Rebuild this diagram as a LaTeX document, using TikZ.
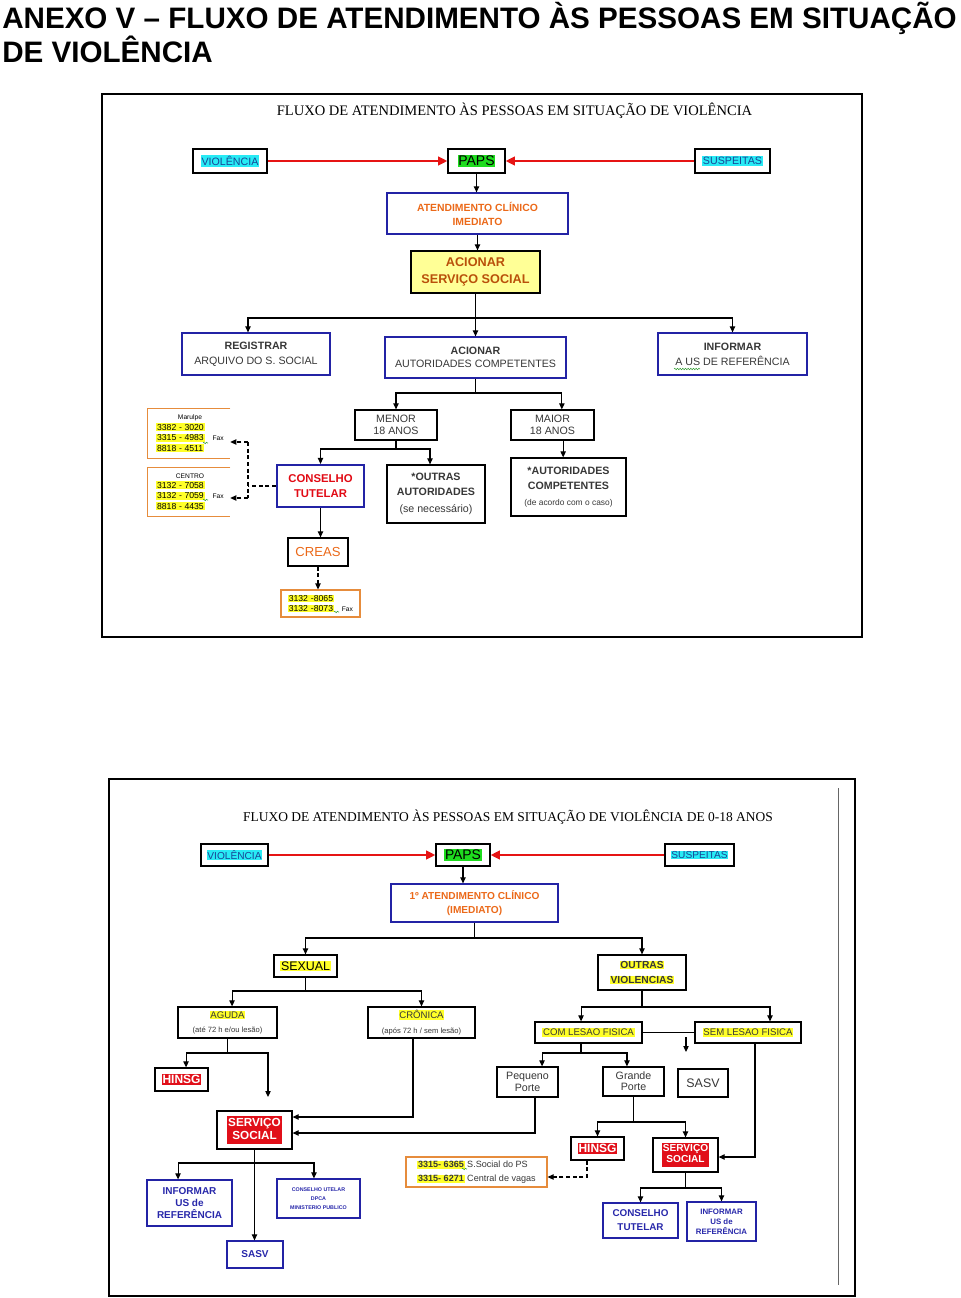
\documentclass[tikz,border=0pt]{standalone}
\usepackage{fontspec}
\setmainfont{Liberation Sans}
\newfontfamily\serifft{Liberation Serif}
\usetikzlibrary{arrows.meta,positioning,shadows,decorations.pathmorphing,calc}

\definecolor{hlcyan}{RGB}{40,235,245}
\definecolor{vtext}{RGB}{25,70,150}
\definecolor{hlgreen}{RGB}{30,220,30}
\definecolor{hlyel}{RGB}{255,255,40}
\definecolor{hlred}{RGB}{225,15,25}
\definecolor{arrred}{RGB}{230,20,20}
\definecolor{navy}{RGB}{35,35,165}
\definecolor{orangetxt}{RGB}{235,105,25}
\definecolor{browntxt}{RGB}{185,80,10}
\definecolor{paleyel}{RGB}{255,255,150}
\definecolor{redtxt}{RGB}{225,10,20}
\definecolor{bluetxt}{RGB}{40,40,170}
\definecolor{phorange}{RGB}{230,140,60}
\definecolor{squiggreen}{RGB}{60,160,60}
\definecolor{graytxt}{RGB}{55,55,55}

\newcommand{\fsz}[2]{\fontsize{#1}{#2}\selectfont}
\newcommand{\hl}[2]{{\setlength{\fboxsep}{0.6pt}\colorbox{#1}{#2}}}
\newcommand{\hlblock}[2]{{\setlength{\fboxsep}{0.6pt}\colorbox{hlred}{\color{white}\begin{tabular}{@{}c@{}}#1\\#2\end{tabular}}}}

\begin{document}
\begin{tikzpicture}[x=0.75pt,y=0.75pt,yscale=-1,xscale=1,
  cbox/.style 2 args={draw, line width=0.9pt, minimum width=#1*0.75pt, minimum height=#2*0.75pt, inner sep=0pt, align=center},
  blbox/.style={draw=navy, line width=0.9pt},
  shd/.style={drop shadow={shadow xshift=1.1pt, shadow yshift=-1.1pt, fill=black!35, opacity=1}},
  link/.style={line width=0.8pt, -{Triangle[length=4.5pt,width=4pt]}},
  ln/.style={line width=0.8pt},
  dlink/.style={line width=0.8pt, dash pattern=on 3pt off 2pt, -{Triangle[length=4.5pt,width=4pt]}},
  dln/.style={line width=0.8pt, dash pattern=on 3pt off 2pt},
  redlink/.style={draw=arrred, line width=1.8pt, -{Triangle[length=7pt,width=6.5pt]}},
  squig/.style={draw=squiggreen, line width=0.4pt, decorate, decoration={snake, amplitude=0.6pt, segment length=2pt}},
  phline/.style={draw=phorange, line width=0.8pt}
]
\useasboundingbox (0,0) rectangle (960,1298);

% Heading
\node[anchor=base west, inner sep=0pt, font=\bfseries\fsz{22.2}{26}] (head1) at (2,29) {ANEXO V – FLUXO DE ATENDIMENTO ÀS PESSOAS EM SITUAÇÃO};
\node[anchor=base west, inner sep=0pt, font=\bfseries\fsz{22.2}{26}] (head2) at (2,63) {DE VIOLÊNCIA};

%%%%%%%%%%%%%%%% first chart
\draw[line width=1.5pt] (102,94) rectangle (862,637);
\node[anchor=base, inner sep=0pt, font=\serifft\fsz{10.9}{12}] (tit1) at (514.5,116) {FLUXO DE ATENDIMENTO ÀS PESSOAS EM SITUAÇÃO DE VIOLÊNCIA};

% Boxes
\node[cbox={74}{24}, shd, fill=white, font=\fsz{8}{10}] (vio1) at (230,161) {\hl{hlcyan}{\color{vtext}VIOLÊNCIA}};
\node[cbox={57}{24}, shd, fill=white, font=\fsz{10.5}{12}] (paps1) at (476.5,161) {\hl{hlgreen}{PAPS}};
\node[cbox={75}{24}, shd, fill=white, font=\fsz{8}{10}] (sus1) at (732.5,161) {\hl{hlcyan}{\color{vtext}SUSPEITAS}};
\node[cbox={181}{41}, blbox, text=orangetxt, font=\bfseries\fsz{7.8}{10.5}] (aci1) at (477.5,213.5) {ATENDIMENTO CLÍNICO\\IMEDIATO};
\node[cbox={129}{42}, shd, fill=paleyel, text=browntxt, font=\bfseries\fsz{9.5}{12.7}] (ass1) at (475.5,272) {ACIONAR\\SERVIÇO SOCIAL};
\node[cbox={148}{42}, blbox, text=graytxt, font=\fsz{8}{11.2}] (reg1) at (256,354) {\textbf{REGISTRAR}\\ARQUIVO DO S. SOCIAL};
\node[cbox={181}{41}, blbox, text=graytxt, font=\fsz{8}{10}] (aut1) at (475.5,357.5) {\textbf{ACIONAR}\\AUTORIDADES COMPETENTES};
\node[cbox={149}{42}, blbox, text=graytxt, font=\fsz{8}{11.2}] (inf1) at (732.5,354) {\textbf{INFORMAR}\\A US DE REFERÊNCIA};
\node[cbox={82}{30}, shd, fill=white, text=graytxt, font=\fsz{8}{9}] (menor) at (396,425) {MENOR\\18 ANOS};
\node[cbox={83}{30}, shd, fill=white, text=graytxt, font=\fsz{8}{9}] (maior) at (552.5,425) {MAIOR\\18 ANOS};
\node[cbox={87}{42}, draw=navy, line width=1.6pt, text=redtxt, font=\bfseries\fsz{8.5}{11.2}] (ct1) at (320.5,486) {CONSELHO\\TUTELAR};
\node[cbox={98}{58}, shd, fill=white, text=graytxt, font=\fsz{8}{11.2}] (oaut) at (436,494) {\textbf{*OUTRAS}\\\textbf{AUTORIDADES}\\[2pt](se necessário)};
\node[cbox={115}{58}, shd, fill=white, text=graytxt, font=\fsz{8}{11.5}] (acomp) at (568.5,487) {\textbf{*AUTORIDADES}\\\textbf{COMPETENTES}\\{\fsz{6.3}{8}(de acordo com o caso)}};
\node[cbox={60}{28}, shd, fill=white, text=orangetxt, font=\fsz{9.8}{12}] (creas) at (318,552) {CREAS};

% Phone lists
\node[minimum width=82*0.75pt, minimum height=49*0.75pt, inner sep=0pt] (marulpe) at (189,433.5) {};
\draw[phline] (marulpe.north east) -- (marulpe.north west) -- (marulpe.south west) -- (marulpe.south east);
\node[inner sep=0pt, font=\fsz{5}{6}] (marT) at (190,418) {Marulpe};
\node[anchor=north west, inner sep=0pt, align=left, font=\fsz{6.5}{7.9}] (marL) at (156,423) {\hl{hlyel}{3382\,\,- 3020}\\\hl{hlyel}{3315\,\,- 4983}\hspace{6pt}{\fsz{5}{6}Fax}\\\hl{hlyel}{8818\,\,- 4511}};
\node[minimum width=82*0.75pt, minimum height=48*0.75pt, inner sep=0pt] (centro) at (189,492) {};
\draw[phline] (centro.north east) -- (centro.north west) -- (centro.south west) -- (centro.south east);
\node[inner sep=0pt, font=\fsz{5}{6}] (cenT) at (190,476) {CENTRO};
\node[anchor=north west, inner sep=0pt, align=left, font=\fsz{6.5}{7.9}] (cenL) at (156,481) {\hl{hlyel}{3132\,\,- 7058}\\\hl{hlyel}{3132\,\,- 7059}\hspace{6pt}{\fsz{5}{6}Fax}\\\hl{hlyel}{8818\,\,- 4435}};
\node[cbox={79}{27}, phline, align=left, font=\fsz{6.5}{7.5}] (tel1) at (320.5,603.5) {\hl{hlyel}{3132\,\,-8065}\\\hl{hlyel}{3132\,\,-8073}\hspace{6pt}{\fsz{5}{6}Fax}};

% squiggles
\draw[squig] (203,443) -- (208,443);
\draw[squig] (203,500) -- (208,500);
\draw[squig] (334,612) -- (339,612);
\draw[squig] (674,369) -- (700,369);

% Connectors
\draw[redlink] (vio1) -- (paps1);
\draw[redlink] (sus1) -- (paps1);
\draw[link] (paps1.south) -- (paps1.south |- aci1.north);
\draw[link] (aci1.south) -- (aci1.south |- ass1.north);
\coordinate (j1) at (475.5,318);
\draw[link] (ass1.south) -- (aut1.north);
\draw[link] (j1) -| ([xshift=-6pt]reg1.north);
\draw[link] (j1) -| (inf1.north);
\coordinate (j2) at (475.5,393);
\draw[ln] (aut1.south) -- (j2);
\draw[link] (j2) -| (menor.north);
\draw[link] (j2) -| ([xshift=7pt]maior.north);
\coordinate (j3) at (396,449);
\draw[ln] (menor.south) -- (j3);
\draw[link] (j3) -| (ct1.north);
\draw[link] (j3) -| ([xshift=-4.5pt]oaut.north);
\draw[link] ([xshift=8pt]maior.south) -- ([xshift=-4pt]acomp.north);
\draw[link] (ct1.south) -- (ct1.south |- creas.north);
\draw[dlink] (creas.south) -- (creas.south |- tel1.north);
\coordinate (dj) at (248,486);
\coordinate (dt) at (248,442);
\coordinate (db) at (248,498);
\draw[dln] (ct1.west) -- (dj);
\draw[dln] (dt) -- (db);
\draw[dlink] (dt) -- (dt -| marulpe.east);
\draw[dlink] (db) -- (db -| centro.east);

%%%%%%%%%%%%%%%% second chart
\draw[line width=1.5pt] (109,779) rectangle (855,1296);
\draw[line width=0.6pt, black!60] (838,788) -- (838,1285);
\node[anchor=base, inner sep=0pt, font=\serifft\fsz{10.1}{12}] (tit2) at (508,821) {FLUXO DE ATENDIMENTO ÀS PESSOAS EM SITUAÇÃO DE VIOLÊNCIA DE 0-18 ANOS};

% Boxes
\node[cbox={67}{22}, shd, fill=white, font=\fsz{7.6}{9}] (vio2) at (234.5,855) {\hl{hlcyan}{\color{vtext}VIOLÊNCIA}};
\node[cbox={54}{22}, shd, fill=white, font=\fsz{10.4}{12}] (paps2) at (463,855) {\hl{hlgreen}{PAPS}};
\node[cbox={69}{22}, shd, fill=white, font=\fsz{7.6}{9}] (sus2) at (699.5,855) {\hl{hlcyan}{\color{vtext}SUSPEITAS}};
\node[cbox={167}{38}, blbox, text=orangetxt, font=\bfseries\fsz{7.6}{10.5}] (aci2) at (474.5,903) {1º ATENDIMENTO CLÍNICO\\(IMEDIATO)};
\node[cbox={63}{22}, shd, fill=white, font=\fsz{9.3}{11}] (sex) at (305.5,966) {\hl{hlyel}{SEXUAL}};
\node[cbox={88}{35}, shd, fill=white, text=graytxt, font=\bfseries\fsz{7.7}{11.2}] (outv) at (642,972.5) {\hl{hlyel}{OUTRAS}\\\hl{hlyel}{VIOLENCIAS}};
\node[cbox={99}{31}, shd, fill=white, text=graytxt, font=\fsz{7.2}{11}] (aguda) at (227.5,1022.5) {\hl{hlyel}{AGUDA}\\{\fsz{5.7}{7}(até 72 h e/ou lesão)}};
\node[cbox={107}{31}, shd, fill=white, text=graytxt, font=\fsz{7.2}{11}] (cron) at (421.5,1022.5) {\hl{hlyel}{CRÔNICA}\\{\fsz{5.7}{7}(após 72 h / sem lesão)}};
\node[cbox={53}{23}, shd, fill=white, font=\bfseries\fsz{9}{11}] (hin1) at (181.5,1079.5) {\hl{hlred}{\color{white}HINSG}};
\node[cbox={75}{38}, shd, fill=white, font=\bfseries\fsz{8.8}{10}] (ss1) at (254.5,1130) {\hlblock{SERVIÇO}{SOCIAL}};
\node[cbox={85}{46}, blbox, text=bluetxt, font=\bfseries\fsz{7.5}{9}] (inf2) at (189.5,1203) {INFORMAR\\US de\\REFERÊNCIA};
\node[cbox={83}{39}, blbox, text=bluetxt, font=\bfseries\fsz{4}{7}] (cup) at (318.5,1198.5) {CONSELHO UTELAR\\DPCA\\MINISTERIO PUBLICO};
\node[cbox={56}{27}, blbox, text=bluetxt, font=\bfseries\fsz{7.5}{9}] (sasv1) at (255,1254.5) {SASV};
\node[cbox={107}{21}, shd, fill=white, text=graytxt, font=\fsz{7.2}{9}] (com) at (588.5,1032.5) {\hl{hlyel}{COM LESAO FISICA}};
\node[cbox={106}{21}, shd, fill=white, text=graytxt, font=\fsz{7.2}{9}] (sem) at (748,1032.5) {\hl{hlyel}{SEM LESAO FISICA}};
\node[cbox={61}{30}, shd, fill=white, text=graytxt, font=\fsz{8}{8.5}] (pq) at (527.5,1082) {Pequeno\\Porte};
\node[cbox={61}{29}, shd, fill=white, text=graytxt, font=\fsz{8}{8.5}] (gp) at (633.5,1081.5) {Grande\\Porte};
\node[cbox={50}{28}, shd, fill=white, text=graytxt, font=\fsz{9.3}{11}] (sasv2) at (703,1083) {SASV};
\node[cbox={53}{23}, shd, fill=white, font=\bfseries\fsz{9}{11}] (hin2) at (597.5,1148.5) {\hl{hlred}{\color{white}HINSG}};
\node[cbox={65}{34}, shd, fill=white, font=\bfseries\fsz{7.6}{8.4}] (ss2) at (685.5,1155) {\hlblock{SERVIÇO}{SOCIAL}};
\node[cbox={141}{30}, phline, align=left, text=graytxt, font=\fsz{6.8}{10.5}] (tel2) at (476.5,1172) {\textbf{\hl{hlyel}{3315- 6365}} S.Social do PS\\\textbf{\hl{hlyel}{3315- 6271}} Central de vagas};
\node[cbox={75}{35}, blbox, text=bluetxt, font=\bfseries\fsz{7.4}{10.5}] (ct2) at (640.5,1220.5) {CONSELHO\\TUTELAR};
\node[cbox={69}{39}, blbox, text=bluetxt, font=\bfseries\fsz{5.9}{7.5}] (inf3) at (721.5,1221.5) {INFORMAR\\US de\\REFERÊNCIA};
\draw[squig] (462,1169) -- (467,1169);

% Connectors
\draw[redlink] (vio2) -- (paps2);
\draw[redlink] (sus2) -- (paps2);
\draw[link] (paps2.south) -- (paps2.south |- aci2.north);
\coordinate (j4) at (474.5,938);
\draw[ln] (aci2.south) -- (j4);
\draw[link] (j4) -| (sex.north);
\draw[link] (j4) -| (outv.north);
\coordinate (j5) at (305.5,991);
\draw[ln] (sex.south) -- (j5);
\draw[link] (j5) -| ([xshift=3.4pt]aguda.north);
\draw[link] (j5) -| (cron.north);
\coordinate (j6) at (227.5,1053);
\draw[ln] (aguda.south) -- (j6);
\draw[link] (j6) -| ([xshift=3.4pt]hin1.north);
\coordinate (a1) at (268,1097);
\draw[link] (j6) -| (a1);
\coordinate (c1) at (413,1117);
\draw[link] (c1 |- cron.south) |- (c1 -| ss1.east);
\coordinate (p1) at (535,1133);
\draw[link] (p1 |- pq.south) |- (p1 -| ss1.east);
\coordinate (j7) at (642,1007);
\draw[ln] (outv.south) -- (j7);
\draw[link] (j7) -| ([xshift=-5.6pt]com.north);
\draw[link] (j7) -| ([xshift=16.5pt]sem.north);
\draw[ln] (com.east) -- (sem.west);
\coordinate (s1) at (686,1037);
\coordinate (s2) at (686,1052);
\draw[link] (s1) -- (s2);
\coordinate (j8) at (581,1053);
\draw[ln] (j8 |- com.south) -- (j8);
\draw[link] (j8) -| ([xshift=10.9pt]pq.north);
\draw[link] (j8) -| ([xshift=-4.9pt]gp.north);
\coordinate (j9) at (633.5,1122);
\draw[ln] (gp.south) -- (j9);
\draw[link] (j9) -| (hin2.north);
\draw[link] (j9) -| (ss2.north);
\coordinate (r1) at (755,1157);
\draw[link] (r1 |- sem.south) |- (r1 -| ss2.east);
\coordinate (h1) at (587,1177);
\draw[dlink] (h1 |- hin2.south) |- (h1 -| tel2.east);
\coordinate (j10) at (254.5,1163);
\draw[link] (ss1.south) -- (ss1.south |- sasv1.north);
\draw[link] (j10) -| ([xshift=-8.6pt]inf2.north);
\draw[link] (j10) -| ([xshift=-3.4pt]cup.north);
\coordinate (j11) at (685.5,1188);
\draw[ln] (ss2.south) -- (j11);
\draw[link] (j11) -| (ct2.north);
\draw[link] (j11) -| (inf3.north);

\end{tikzpicture}
\end{document}
